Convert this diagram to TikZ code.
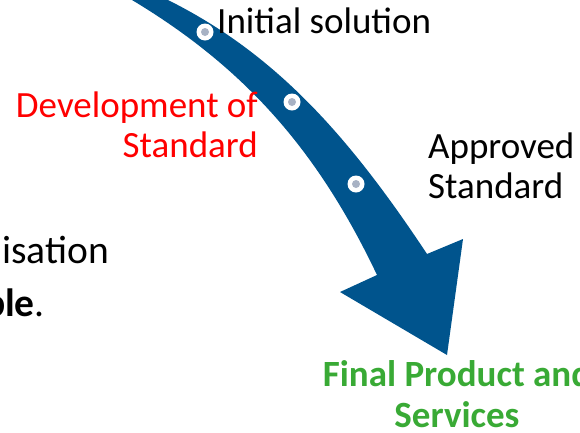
\documentclass[tikz,border=0pt]{standalone}
\usepackage{fontspec}
\setmainfont{Carlito}
\definecolor{flowblue}{RGB}{0,84,141}
\definecolor{stepgrey}{RGB}{168,178,196}
\definecolor{goalgreen}{RGB}{57,170,53}
\definecolor{devred}{RGB}{255,0,0}
\begin{document}
\begin{tikzpicture}[x=1pt,y=-1pt,
  lbl/.style={inner sep=0pt, font=\fontsize{37}{40}\selectfont},
  sidetext/.style={inner sep=0pt, font=\fontsize{39.5}{53}\selectfont},
  milestone/.style={circle, fill=white, minimum size=17pt, inner sep=0pt,
    path picture={\fill[stepgrey] (path picture bounding box.center) circle (4pt);}}]
\useasboundingbox (0,0) rectangle (580,432);
\clip (0,0) rectangle (580,432);

% curved process arrow: inner edge, head, outer edge
\fill[flowblue]
  (112,-12) -- (132,0) .. controls (244,67.2) and (317.5,149.7) .. (377,275)
  -- (340,292) -- (447,355) -- (463,239) -- (427,254)
  .. controls (345,130) and (272,52) .. (168,0) -- (146,-13)
  -- cycle;

% milestones along the arrow
\node[milestone] (m1) at (205,32) {};
\node[milestone] (m2) at (292,102) {};
\node[milestone] (m3) at (356,184) {};

% labels (base anchor sits on the last line)
\node[lbl, anchor=base west] (init) at (217,33) {Initial solution};
\node[lbl, anchor=base east, align=right, text=devred] (dev) at (258,157) {Development of\\Standard};
\node[lbl, anchor=base west, align=left] (appr) at (428,198) {Approved\\Standard};
\node[lbl, anchor=base, align=center, text=goalgreen, font=\fontsize{37}{41}\selectfont\bfseries] (final) at (457,427) {Final Product and\\Services};

% side text
\node[sidetext, anchor=base east] (side1) at (109,263) {isation};
\node[sidetext, anchor=base east] (side2) at (45,316) {\textbf{ble}.};
\end{tikzpicture}
\end{document}
